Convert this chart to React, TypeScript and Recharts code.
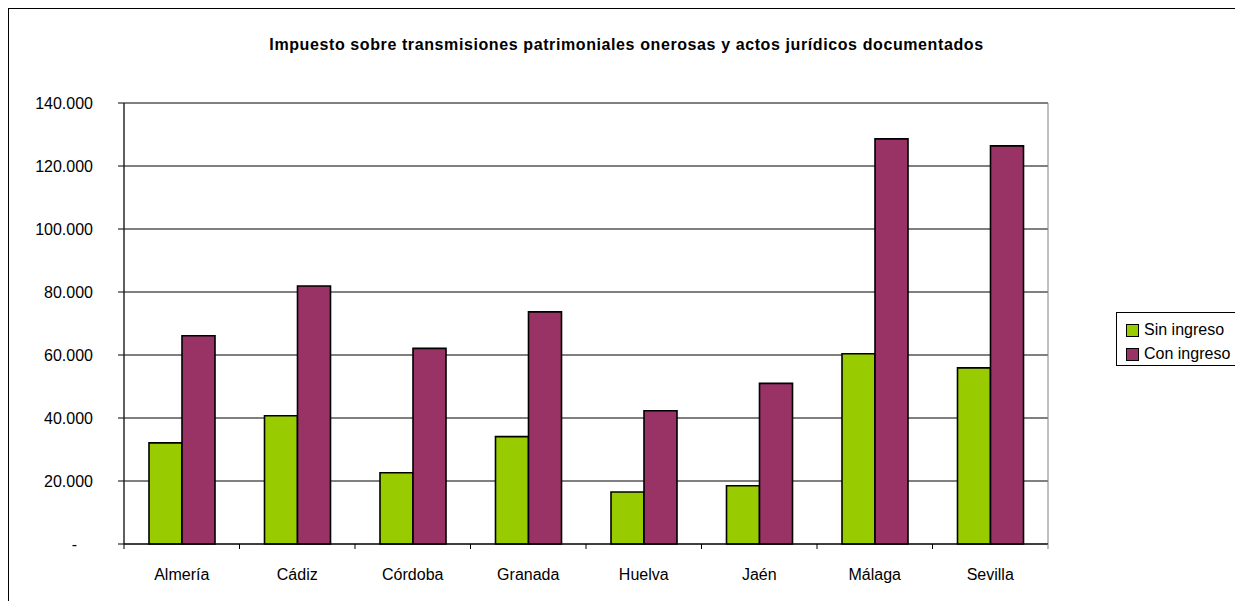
import React from "react"
import {
  BarChart,
  Bar,
  XAxis,
  YAxis,
  CartesianGrid,
  ReferenceArea,
  Legend,
} from "recharts"

const provincias = ["Almería", "Cádiz", "Córdoba", "Granada", "Huelva", "Jaén", "Málaga", "Sevilla"]
const sinIngreso = [32100, 40700, 22600, 34100, 16500, 18500, 60400, 55900]
const conIngreso = [66100, 81900, 62100, 73700, 42300, 51000, 128600, 126400]
const yTicks = [0, 20000, 40000, 60000, 80000, 100000, 120000, 140000]

const series = [
  { key: "sin", name: "Sin ingreso", color: "#99CC00" },
  { key: "con", name: "Con ingreso", color: "#993366" },
]

const data = provincias.map((p, i) => ({ p, sin: sinIngreso[i], con: conIngreso[i] }))

const font = "'Liberation Sans', Arial, sans-serif"
const X_TICK_MARGIN = 25

const fmt = (v: number) => String(v).replace(/\B(?=(\d{3})+(?!\d))/g, ".")

function YTick(props: any) {
  const { x, y, payload } = props
  if (payload.value === 0) {
    return (
      <text x={x - 16} y={y} dy="0.35em" textAnchor="end" fontSize={16} fontFamily={font} fill="#000">
        -
      </text>
    )
  }
  return (
    <text x={x} y={y} dy="0.35em" textAnchor="end" fontSize={16} fontFamily={font} fill="#000">
      {fmt(payload.value)}
    </text>
  )
}

// category labels, with the tick marks on the category boundaries (Excel style)
function XTick(props: any) {
  const { x, y, payload, index, visibleTicksCount } = props
  const half = payload.offset ?? 0
  const axisY = y - X_TICK_MARGIN
  return (
    <g>
      <line x1={x - half} x2={x - half} y1={axisY} y2={axisY + 5} stroke="#000" />
      {index === visibleTicksCount - 1 ? (
        <line x1={x + half} x2={x + half} y1={axisY} y2={axisY + 5} stroke="#808080" />
      ) : null}
      <text x={x} y={y} dy="0.71em" textAnchor="middle" fontSize={16} fontFamily={font} fill="#000">
        {payload.value}
      </text>
    </g>
  )
}

function LegendBox() {
  return (
    <div
      style={{
        border: "1px solid #000",
        width: 126,
        height: 54,
        boxSizing: "border-box",
        padding: "5px 0 0 9px",
        fontFamily: font,
        fontSize: 16,
        background: "#fff",
      }}
    >
      {series.map((s) => (
        <div key={s.key} style={{ display: "flex", alignItems: "center", height: 24, whiteSpace: "nowrap" }}>
          <span
            style={{
              flex: "none",
              width: 11,
              height: 11,
              background: s.color,
              border: "1.5px solid #000",
              marginRight: 5,
            }}
          />
          <span>{s.name}</span>
        </div>
      ))}
    </div>
  )
}

export default function App() {
  return (
    <div
      style={{
        position: "fixed",
        left: 8,
        top: 8,
        width: 1226,
        height: 592,
        borderLeft: "1px solid #000",
        borderTop: "1px solid #000",
        background: "#fff",
        overflow: "hidden",
      }}
    >
      <div
        style={{
          position: "absolute",
          left: 0,
          top: 27,
          width: 1235,
          textAlign: "center",
          fontFamily: font,
          fontWeight: "bold",
          fontSize: 16,
          letterSpacing: "0.6px",
          lineHeight: "18px",
          color: "#000",
        }}
      >
        Impuesto sobre transmisiones patrimoniales onerosas y actos jurídicos documentados
      </div>
      <BarChart
        width={1226}
        height={592}
        data={data}
        margin={{ top: 94, right: 187, bottom: 27, left: 15 }}
        barGap={0}
      >
        <CartesianGrid vertical={false} stroke="#000" strokeWidth={1} />
        <ReferenceArea y1={0} y2={140000} fill="none" stroke="#808080" strokeWidth={1} />
        <XAxis
          dataKey="p"
          height={30}
          tickSize={0}
          tickMargin={X_TICK_MARGIN}
          axisLine={{ stroke: "#000" }}
          tickLine={false}
          interval={0}
          tick={<XTick />}
        />
        <YAxis
          domain={[0, 140000]}
          ticks={yTicks}
          interval={0}
          width={100}
          tickSize={6}
          tickMargin={25}
          axisLine={{ stroke: "#000" }}
          tickLine={{ stroke: "#000" }}
          tick={<YTick />}
        />
        {series.map((s) => (
          <Bar
            key={s.key}
            dataKey={s.key}
            name={s.name}
            fill={s.color}
            stroke="#000"
            strokeWidth={1.6}
            barSize={33}
            isAnimationActive={false}
          />
        ))}
        <Legend
          layout="vertical"
          align="center"
          verticalAlign="middle"
          content={<LegendBox />}
          wrapperStyle={{ position: "absolute", left: 1107, top: 303, width: 126 }}
        />
      </BarChart>
    </div>
  )
}
